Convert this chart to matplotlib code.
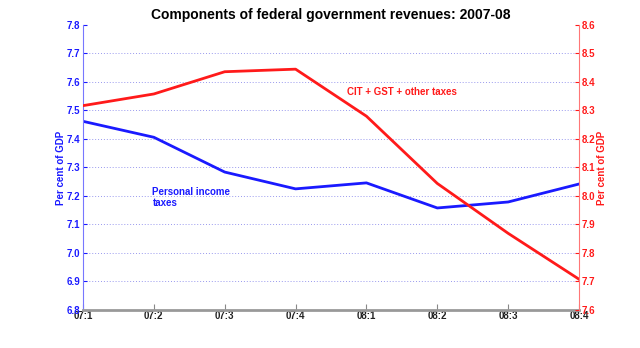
import matplotlib
matplotlib.use("Agg")
from matplotlib import pyplot as plt

quarters = ["07:1", "07:2", "07:3", "07:4", "08:1", "08:2", "08:3", "08:4"]
personal_income = [7.462, 7.406, 7.284, 7.225, 7.246, 7.158, 7.179, 7.242]
cit_gst_other = [8.317, 8.358, 8.436, 8.445, 8.280, 8.044, 7.869, 7.708]

left_ticks = [6.8, 6.9, 7.0, 7.1, 7.2, 7.3, 7.4, 7.5, 7.6, 7.7, 7.8]
right_ticks = [7.6, 7.7, 7.8, 7.9, 8.0, 8.1, 8.2, 8.3, 8.4, 8.5, 8.6]

plt.rcParams["font.family"] = ["Liberation Sans", "DejaVu Sans"]
plt.rcParams["font.weight"] = "bold"

BLUE = "#1a1aff"
RED = "#ff1a1a"

fig = plt.figure(figsize=(6.4, 3.48), dpi=100)
ax = fig.add_axes([0.1297, 0.1092, 0.775, 0.8190])
ax2 = ax.twinx()

x = list(range(len(quarters)))

# grid on the left axis
for v in left_ticks[1:-1]:
    ax.axhline(v, color="#9999ee", linestyle=(0, (1, 2)), linewidth=0.7, zorder=0)

ax.plot(x, personal_income, color=BLUE, linewidth=2)
ax2.plot(x, cit_gst_other, color=RED, linewidth=2)

ax.set_xlim(0, len(quarters) - 1)
ax.set_ylim(6.8, 7.8)
ax2.set_ylim(7.6, 8.6)

ax.set_xticks(x)
ax.set_xticklabels(quarters, fontsize=7, fontweight="bold", color="#222222")
ax.set_yticks(left_ticks)
ax.set_yticklabels([f"{v:.1f}" for v in left_ticks], fontsize=7, fontweight="bold", color=BLUE)
ax2.set_yticks(right_ticks)
ax2.set_yticklabels([f"{v:.1f}" for v in right_ticks], fontsize=7, fontweight="bold", color=RED)

ax.tick_params(axis="x", direction="in", length=4, color="#888888", pad=1)
ax.tick_params(axis="y", direction="in", length=3, color=BLUE, pad=2)
ax2.tick_params(axis="y", direction="in", length=3, color=RED, pad=2)

for a in (ax, ax2):
    a.spines["top"].set_visible(False)
ax.spines["bottom"].set_color("#999999")
ax.spines["bottom"].set_linewidth(2)
ax2.spines["bottom"].set_visible(False)
ax.spines["left"].set_color("#7777ff")
ax.spines["right"].set_visible(False)
ax2.spines["left"].set_visible(False)
ax2.spines["right"].set_color("#ff7777")

ax.set_ylabel("Per cent of GDP", fontsize=7, fontweight="bold", color=BLUE, labelpad=0.5)
ax2.set_ylabel("Per cent of GDP", fontsize=7, fontweight="bold", color=RED, labelpad=1.5)

ax.set_title("Components of federal government revenues: 2007-08",
             fontsize=10, fontweight="bold", pad=4)

ax2.text(3.73, 8.355, "CIT + GST + other taxes", color=RED, fontsize=7, fontweight="bold")
ax.text(0.98, 7.165, "Personal income\ntaxes", color=BLUE, fontsize=7, fontweight="bold",
        linespacing=1.1)

fig.savefig("out.png", dpi=100)
